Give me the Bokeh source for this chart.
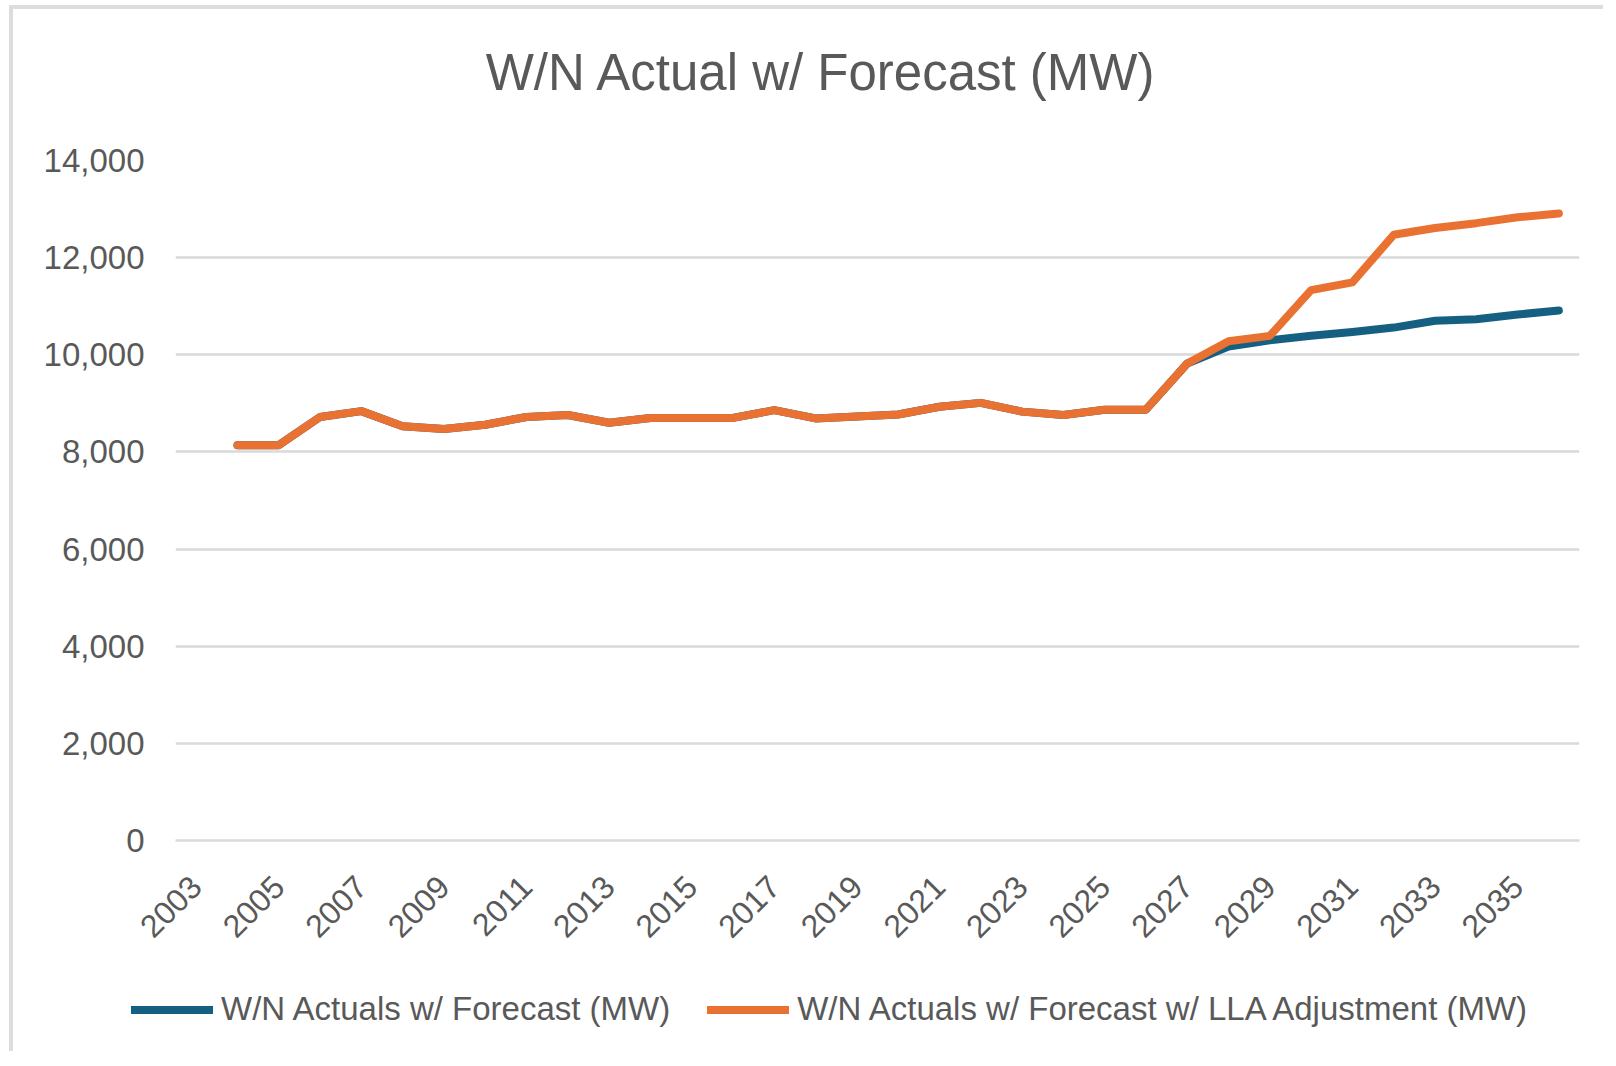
import math
from bokeh.plotting import figure
from bokeh.layouts import column
from bokeh.models import (FixedTicker, NumeralTickFormatter, Legend, LegendItem,
                          Label, ColumnDataSource, BasicTickFormatter)
from bokeh.embed import file_html
from bokeh.resources import INLINE

# ---------------- data ----------------
title_text = "W/N Actual w/ Forecast (MW)"
series_names = ["W/N Actuals w/ Forecast (MW)",
                "W/N Actuals w/ Forecast w/ LLA Adjustment (MW)"]

years = [2004, 2005, 2006, 2007, 2008, 2009, 2010, 2011, 2012, 2013, 2014,
         2015, 2016, 2017, 2018, 2019, 2020, 2021, 2022, 2023, 2024, 2025,
         2026, 2027, 2028, 2029, 2030, 2031, 2032, 2033, 2034, 2035, 2036]

forecast_mw = [8140, 8140, 8720, 8840, 8530, 8470, 8560, 8720, 8760, 8600, 8700,
               8700, 8700, 8860, 8690, 8730, 8770, 8930, 9010, 8830, 8760, 8870,
               8870, 9820, 10170, 10300, 10390, 10470, 10560, 10700, 10730, 10830, 10910]

lla_forecast_mw = [8140, 8140, 8720, 8840, 8530, 8470, 8560, 8720, 8760, 8600, 8700,
                   8700, 8700, 8860, 8690, 8730, 8770, 8930, 9010, 8830, 8760, 8870,
                   8870, 9820, 10280, 10390, 11330, 11490, 12470, 12610, 12710, 12830, 12910]

x_tick_years = [2003, 2005, 2007, 2009, 2011, 2013, 2015, 2017, 2019, 2021,
                2023, 2025, 2027, 2029, 2031, 2033, 2035]
y_ticks = [0, 2000, 4000, 6000, 8000, 10000, 12000, 14000]

# ---------------- styling ----------------
FONT = "Liberation Sans"
TXT = "#595959"
GRID = "#d9d9d9"
BLUE = "#156082"
ORANGE = "#E97132"
W = 1590

src = ColumnDataSource(dict(year=years, f=forecast_mw, lla=lla_forecast_mw))


def blank_fig(h):
    f = figure(width=W, height=h, output_backend="svg", toolbar_location=None,
               x_range=(0, 1), y_range=(0, 1), x_axis_type=None, y_axis_type=None,
               min_border=0, min_border_left=0, min_border_right=0,
               min_border_top=0, min_border_bottom=0, frame_align=False)
    f.outline_line_color = None
    f.xgrid.visible = False
    f.ygrid.visible = False
    f.background_fill_color = "white"
    f.border_fill_color = "white"
    return f


# ---- title strip ----
pt = blank_fig(121)
pt.add_layout(Label(x=808, y=58, x_units="screen", y_units="screen",
                    text=title_text, text_align="center", text_baseline="middle",
                    text_font=FONT, text_font_size="51px", text_color=TXT))

# ---- main chart ----
p = figure(width=W, height=839, output_backend="svg", toolbar_location=None,
           x_range=(2002.5, 2036.5), y_range=(0, 14000),
           min_border_left=162, min_border_right=24, min_border_top=30,
           min_border_bottom=129, title=None, frame_align=False)
p.outline_line_color = None
p.background_fill_color = "white"
p.border_fill_color = "white"

p.xgrid.visible = False
p.ygrid.grid_line_color = GRID
p.ygrid.grid_line_width = 2.5

p.yaxis.ticker = FixedTicker(ticks=y_ticks)
p.yaxis.formatter = NumeralTickFormatter(format="0,0")
p.yaxis.axis_line_color = None
p.yaxis.major_tick_line_color = None
p.yaxis.minor_tick_line_color = None
p.yaxis.major_label_text_font_size = "33px"
p.yaxis.major_label_text_font = FONT
p.yaxis.major_label_text_color = TXT
p.yaxis.major_label_standoff = 25

p.xaxis.ticker = FixedTicker(ticks=x_tick_years)
p.xaxis.formatter = BasicTickFormatter(use_scientific=False)
p.xaxis.axis_line_color = GRID
p.xaxis.axis_line_width = 2.5
p.xaxis.major_tick_line_color = None
p.xaxis.minor_tick_line_color = None
p.xaxis.major_label_orientation = math.pi / 4
p.xaxis.major_label_text_font_size = "32px"
p.xaxis.major_label_text_font = FONT
p.xaxis.major_label_text_color = TXT
p.xaxis.major_label_standoff = 35

p.line("year", "f", source=src, line_color=BLUE, line_width=8,
       line_cap="round", line_join="round")
p.line("year", "lla", source=src, line_color=ORANGE, line_width=8,
       line_cap="round", line_join="round")

# ---- legend strip (series lines lie outside this strip's ranges; only the key shows) ----
pl = blank_fig(82)
k1 = pl.line("year", "f", source=src, line_color=BLUE, line_width=8, line_cap="round")
k2 = pl.line("year", "lla", source=src, line_color=ORANGE, line_width=8, line_cap="round")
legend = Legend(items=[LegendItem(label=series_names[0], renderers=[k1]),
                       LegendItem(label=series_names[1], renderers=[k2])],
                orientation="horizontal", location=(118, 23),
                glyph_width=82, glyph_height=37, label_standoff=8, spacing=37,
                padding=0, margin=0, border_line_color=None,
                background_fill_alpha=0,
                label_text_font_size="33px", label_text_font=FONT,
                label_text_color=TXT)
pl.add_layout(legend)

layout = column(pt, p, pl, spacing=0,
                styles={"margin-left": "9px", "margin-top": "5px",
                        "border-top": "4px solid #dddddd",
                        "border-left": "4px solid #dddddd"})

open("out.html", "w").write(file_html(layout, INLINE))
